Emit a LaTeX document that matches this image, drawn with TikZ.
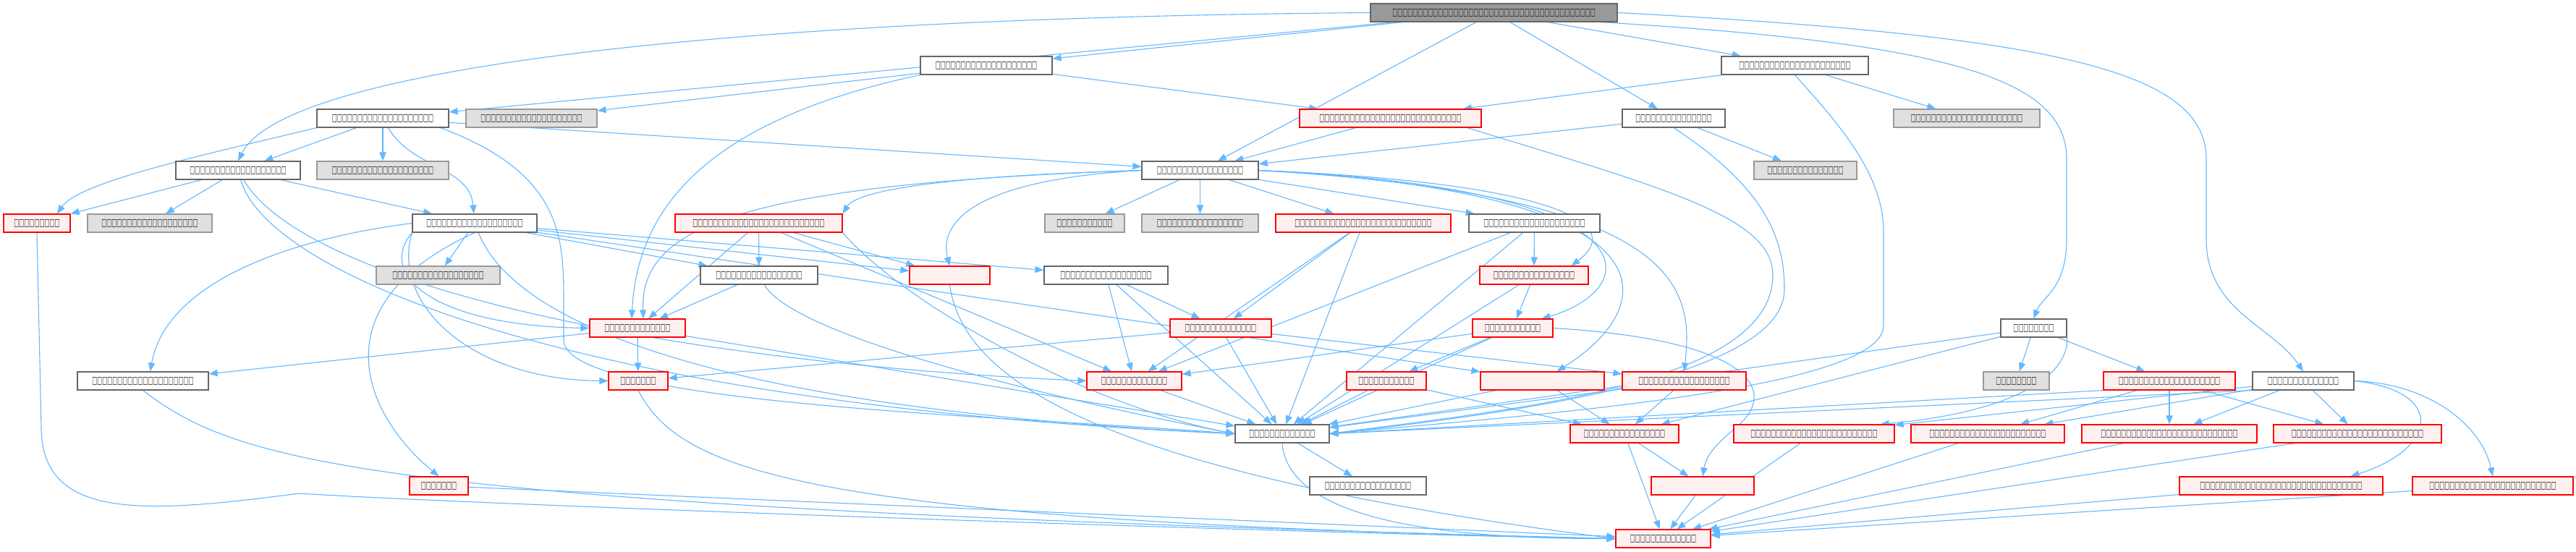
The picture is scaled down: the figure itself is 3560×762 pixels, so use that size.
\documentclass[tikz,border=0pt]{standalone}
\usepackage{fontspec}
\newfontfamily\tofufont[FakeStretch=0.53]{DejaVu Sans}
\usetikzlibrary{arrows.meta,backgrounds}
\definecolor{edgec}{HTML}{63B8FF}
\definecolor{redb}{HTML}{FF0000}
\definecolor{redf}{HTML}{FFF0F0}
\definecolor{grayf}{HTML}{E0E0E0}
\definecolor{grayb}{HTML}{999999}
\definecolor{whiteb}{HTML}{666666}
\definecolor{rootf}{HTML}{999999}
\definecolor{txt}{HTML}{1A1A1A}
\newcommand\tofu[1]{\makebox[0pt]{\tofufont\fontsize{7pt}{8pt}\selectfont\color{txt}\foreach\k in {1,...,#1}{□}}}
\begin{document}
\begin{tikzpicture}[x=0.5pt,y=-0.5pt,
  base/.style={minimum height=12.5pt, inner sep=0pt, line width=0.6pt},
  wd/.style={minimum width=#1*0.5pt},
  wn/.style={base, draw=whiteb, fill=white},
  rn/.style={base, draw=redb, fill=redf},
  gn/.style={base, draw=grayb, fill=grayf},
  rootn/.style={base, draw=whiteb, fill=rootf},
  e/.style={draw=edgec, line width=0.55pt, -{Triangle[length=6pt,width=4.6pt]}}]
\useasboundingbox (0,0) rectangle (3560,762);
% nodes
\node[rootn,wd=341] (R) at (2064.5,17.5) {\tofu{40}};
\node[wn,wd=182] (A) at (1363,90.5) {\tofu{20}};
\node[wn,wd=203] (B) at (2480.5,90.5) {\tofu{22}};
\node[wn,wd=182] (C) at (529,163.5) {\tofu{20}};
\node[gn,wd=181] (Cg) at (734.5,163.5) {\tofu{20}};
\node[rn,wd=251] (D) at (1921.5,163.5) {\tofu{28}};
\node[wn,wd=142] (E) at (2313,163.5) {\tofu{15}};
\node[gn,wd=202] (Eg) at (2718,163.5) {\tofu{22}};
\node[wn,wd=172] (F) at (329,235.5) {\tofu{19}};
\node[gn,wd=182] (Fg) at (529,235.5) {\tofu{20}};
\node[wn,wd=161] (H) at (1658.5,235.5) {\tofu{17}};
\node[gn,wd=142] (E2g) at (2495,235.5) {\tofu{15}};
\node[rn,wd=92] (Lr) at (51,308.5) {\tofu{9}};
\node[gn,wd=172] (Lg) at (207,308.5) {\tofu{19}};
\node[wn,wd=172] (I) at (656,308.5) {\tofu{19}};
\node[rn,wd=231] (J) at (1048.5,308.5) {\tofu{26}};
\node[gn,wd=110] (K1g) at (1499,308.5) {\tofu{11}};
\node[gn,wd=161] (K2g) at (1658.5,308.5) {\tofu{17}};
\node[rn,wd=242] (M) at (1884,308.5) {\tofu{27}};
\node[wn,wd=181] (N) at (2120.5,308.5) {\tofu{20}};
\node[gn,wd=171] (Og) at (605.5,380.5) {\tofu{18}};
\node[wn,wd=162] (P) at (1049,380.5) {\tofu{17}};
\node[rn,wd=111] (Q) at (1312.5,380.5) {};
\node[wn,wd=171] (S) at (1528.5,380.5) {\tofu{18}};
\node[rn,wd=150] (T) at (2120,380.5) {\tofu{16}};
\node[rn,wd=132] (U) at (881,453.5) {\tofu{13}};
\node[rn,wd=140] (V) at (1687,453.5) {\tofu{14}};
\node[rn,wd=111] (W) at (2090.5,453.5) {\tofu{11}};
\node[wn,wd=91] (X) at (2810.5,453.5) {\tofu{8}};
\node[wn,wd=181] (Y) at (197.5,526.5) {\tofu{20}};
\node[rn,wd=82] (Z) at (882,526.5) {\tofu{7}};
\node[rn,wd=131] (AA) at (1567.5,526.5) {\tofu{13}};
\node[rn,wd=110] (AB) at (1916,526.5) {\tofu{11}};
\node[rn,wd=171] (AC) at (2131.5,526.5) {};
\node[rn,wd=171] (AD) at (2327.5,526.5) {\tofu{18}};
\node[gn,wd=91] (AEg) at (2786.5,526.5) {\tofu{8}};
\node[rn,wd=182] (AF) at (2998,526.5) {\tofu{20}};
\node[wn,wd=140] (AG) at (3183,526.5) {\tofu{14}};
\node[wn,wd=130] (S1) at (1772,599.5) {\tofu{13}};
\node[rn,wd=150] (AH) at (2245,599.5) {\tofu{16}};
\node[rn,wd=222] (AI) at (2507,599.5) {\tofu{25}};
\node[rn,wd=212] (AJ) at (2747,599.5) {\tofu{23}};
\node[rn,wd=242] (AK) at (2998,599.5) {\tofu{27}};
\node[rn,wd=232] (AL) at (3258,599.5) {\tofu{26}};
\node[rn,wd=81] (AM) at (606.5,671.5) {\tofu{7}};
\node[wn,wd=161] (AN) at (1890.5,671.5) {\tofu{17}};
\node[rn,wd=142] (AO) at (2353,671.5) {};
\node[rn,wd=281] (AP) at (3152.5,671.5) {\tofu{32}};
\node[rn,wd=222] (AQ) at (3445,671.5) {\tofu{25}};
\node[rn,wd=131] (S2) at (2298.5,744.5) {\tofu{13}};
\begin{pgfonlayer}{background}
\fill[white] (0,0) rectangle (3560,762);
% root
\draw[e] (R.west) .. controls (950,25) and (390,100) .. (F.north);
\draw[e] (R) -- (C);
\draw[e] (R) -- (A);
\draw[e] (R) -- (H);
\draw[e] (R) -- (E);
\draw[e] (R) -- (B);
\draw[e] ([xshift=-12pt]R.south east) .. controls (2700,60) and (2856,110) .. (2856,220) -- (2856,330) .. controls (2856,400) and (2822,410) .. (X.north);
\draw[e] (R.east) .. controls (2850,50) and (3049,100) .. (3049,220) -- (3049,330) .. controls (3049,430) and (3140,450) .. (AG.north);
% A
\draw[e] (A) -- (Cg);
\draw[e] (A) -- (D);
\draw[e] (A.south west) .. controls (960,170) and (880,300) .. ([xshift=-4pt]U.north);
% B
\draw[e] (B) -- (D);
\draw[e] (B) -- (Eg);
\draw[e] (B.south) .. controls (2540,170) and (2603,240) .. (2603,320) -- (2603,450) .. controls (2603,540) and (2100,575) .. (S1.east);
% C
\draw[e] (C) -- (F);
\draw[e] (C) -- (Fg);
\draw[e] (C.south west) .. controls (300,210) and (110,250) .. ([xshift=14pt]Lr.north);
\draw[e] (C) to[out=-60,in=95] (I);
\draw[e] (C) -- (H);
\draw[e] ([xshift=-6pt]C.south east) .. controls (779,240) and (779,330) .. (779,420) -- (779,470) .. controls (779,560) and (1400,575) .. (S1.west);
% F
\draw[e] (F) -- (Lr.north east);
\draw[e] (F) -- (Lg);
\draw[e] (F) -- (I);
\draw[e] (F) .. controls (370,380) and (800,560) .. (S1.west);
\draw[e] (F) .. controls (420,390) and (900,500) .. (AA.west);
% I
\draw[e] (I) -- (Og);
\draw[e] (I) -- (P);
\draw[e] (I.south west) .. controls (520,380) and (600,450) .. (U.west);
\draw[e] (I.south west) .. controls (540,420) and (650,525) .. (Z.west);
\draw[e] (I.west) .. controls (400,330) and (230,390) .. ([xshift=5pt]Y.north);
\draw[e] (I.south) .. controls (440,420) and (500,570) .. (AM.north);
\draw[e] (I) .. controls (700,420) and (900,560) .. (S1.west);
\draw[e] (I) -- (Q);
\draw[e] (I) -- (S);
\draw[e] (I) -- (AC);
% J
\draw[e] (J) -- (P);
\draw[e] (J) -- (U);
\draw[e] (J) -- (Q);
\draw[e] (J.south east) .. controls (1250,420) and (1500,560) .. (S1.west);
\draw[e] (J) -- (AA);
% H
\draw[e] (H.west) .. controls (1250,245) and (1180,270) .. (J.north east);
\draw[e] (H) -- (K1g);
\draw[e] (H) -- (K2g);
\draw[e] (H) -- (M);
\draw[e] (H) -- (N);
\draw[e] (H.west) .. controls (1320,250) and (1300,320) .. (Q.north);
\draw[e] (H.west) .. controls (1000,255) and (885,320) .. ([xshift=4pt]U.north);
\draw[e] (H.east) .. controls (2100,250) and (2260,300) .. ([xshift=-12pt]T.north east);
\draw[e] (H.east) .. controls (2300,260) and (2270,400) .. ([xshift=-8pt]W.north east);
\draw[e] (H.east) .. controls (2320,265) and (2300,420) .. ([xshift=10pt]AC.north);
\draw[e] (H.east) .. controls (2330,270) and (2340,400) .. (AD.north);
% P
\draw[e] (P) -- (U);
\draw[e] (P) .. controls (1100,470) and (1500,560) .. (S1.west);
% U
\draw[e] (U) -- (Z);
\draw[e] (U) -- (Y);
\draw[e] (U) -- (S1);
% S
\draw[e] (S) -- (V);
\draw[e] (S) -- (AA);
\draw[e] (S) -- (S1);
% V
\draw[e] (V) -- (Z);
\draw[e] (V) -- (AD);
\draw[e] (V) -- (S1);
% M
\draw[e] (M) -- (V);
\draw[e] (M) -- (S1);
\draw[e] (M) -- (AA);
% N
\draw[e] (N) -- (T);
\draw[e] (N) -- (S1);
\draw[e] (N) -- (AA);
% T
\draw[e] (T) -- (W);
\draw[e] (T) -- (S1);
% W
\draw[e] (W) -- (AB);
\draw[e] (W) -- (AA);
\draw[e] (W) -- (S1);
\draw[e] (W.east) .. controls (2420,470) and (2460,540) .. (2400,590) .. controls (2370,615) and (2358,630) .. (AO.north);
% lower middle
\draw[e] (AA) -- (S1);
\draw[e] (AB) -- (S1);
\draw[e] (AB) -- (AH);
\draw[e] (AC) -- (S1);
\draw[e] (AC) -- (AH);
\draw[e] (AD) -- (S1);
\draw[e] (AD) -- (AH);
\draw[e] (AH) -- (S2);
\draw[e] (AH) -- (AO);
\draw[e] (AO) -- (S2);
\draw[e] (S1) -- (AN);
\draw[e] (S1.south) .. controls (1780,720) and (2000,745) .. (S2.west);
% into S2 from the left
\draw[e] (Lr.south) -- (57,590) .. controls (57,720) and (200,710) .. (413,682) .. controls (700,700) and (1900,740) .. (S2.west);
\draw[e] (Y.south) .. controls (330,640) and (500,700) .. (S2.west);
\draw[e] (AM) -- (S2);
\draw[e] (Z.south) .. controls (940,650) and (1100,720) .. (S2.west);
\draw[e] (Q.south) .. controls (1330,520) and (1500,650) .. (S2.west);
% E, D
\draw[e] (E) -- (H);
\draw[e] (E) -- (E2g);
\draw[e] (E.south) .. controls (2440,260) and (2466,330) .. (2466,400) .. controls (2466,520) and (2100,570) .. (S1.east);
\draw[e] (D) -- (H);
\draw[e] ([xshift=-10pt]D.south east) .. controls (2300,260) and (2450,300) .. (2450,380) .. controls (2450,530) and (2100,565) .. (S1.east);
% X
\draw[e] (X) -- (AEg);
\draw[e] (X) -- (AF);
\draw[e] (X.south east) .. controls (2860,520) and (2780,570) .. ([xshift=-10pt]AI.north east);
\draw[e] (X) -- (S1);
\draw[e] (X) -- (AH);
% AF
\draw[e] (AF) -- (AJ);
\draw[e] (AF) -- (AK);
\draw[e] (AF) -- (AL);
\draw[e] (AF.south west) -- (S1.east);
% AG
\draw[e] (AG) -- (AI);
\draw[e] (AG) -- (AJ);
\draw[e] (AG) -- (AK);
\draw[e] (AG) -- (AL);
\draw[e] (AG.east) .. controls (3380,540) and (3370,620) .. ([xshift=48pt]AP.north);
\draw[e] (AG.east) .. controls (3360,530) and (3430,590) .. (AQ.north);
\draw[e] (AG.south west) -- (S1.east);
% right side into S2
\draw[e] (AI) -- (S2);
\draw[e] (AJ) -- (S2);
\draw[e] (AK) -- (S2);
\draw[e] (AL) -- (S2);
\draw[e] (AP) -- (S2);
\draw[e] (AQ) -- (S2);
\end{pgfonlayer}
\end{tikzpicture}
\end{document}
